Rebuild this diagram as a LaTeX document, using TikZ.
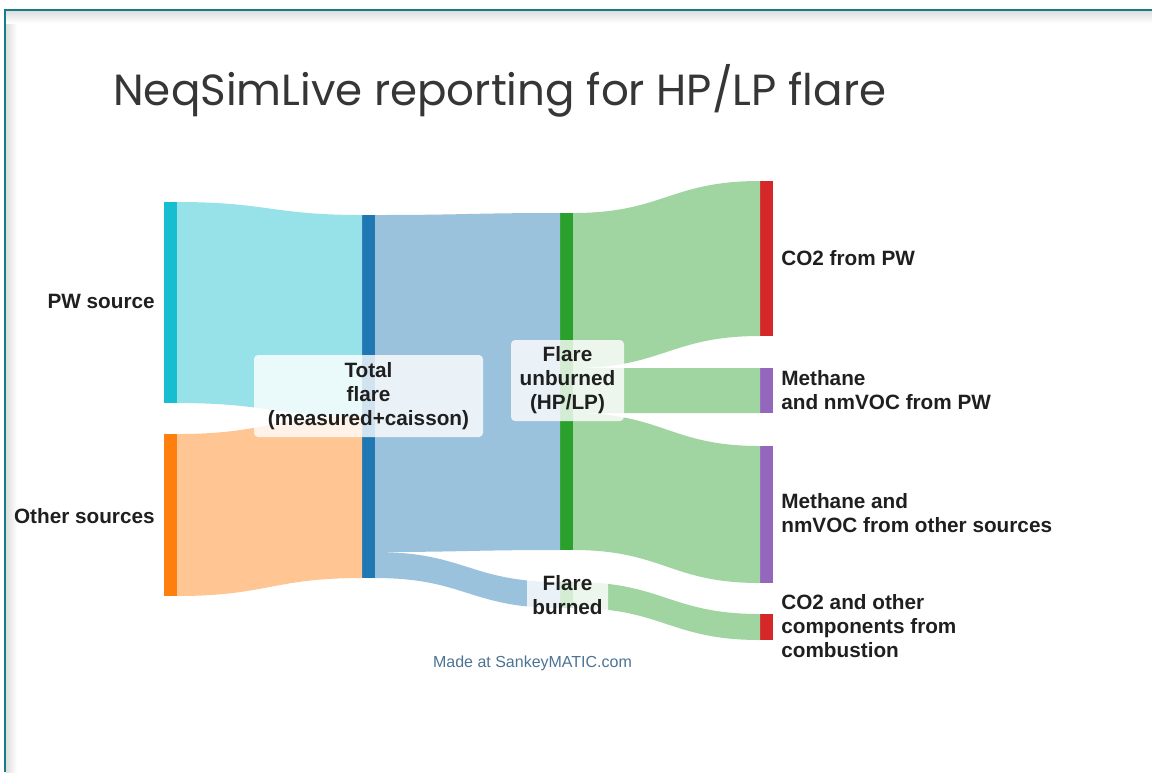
\documentclass[tikz,border=0pt]{standalone}
\usepackage{fontspec}
\setmainfont{Liberation Sans}
\newfontfamily\titlefont{Poppins}
\usetikzlibrary{calc}

\definecolor{pwcol}{HTML}{17BECF}
\definecolor{othcol}{HTML}{FF7F0E}
\definecolor{totcol}{HTML}{1F77B4}
\definecolor{flrcol}{HTML}{2CA02C}
\definecolor{co2col}{HTML}{D62728}
\definecolor{ch4col}{HTML}{9467BD}
\definecolor{framecol}{HTML}{167C87}
\definecolor{titlecol}{HTML}{363636}
\definecolor{madecol}{HTML}{4C7394}

\newcommand{\px}{0.02cm}
\newcommand{\band}[5]{\fill[#5] (#1) .. controls +(90,0) and +(-90,0) .. (#3)
  -- (#4) .. controls +(-90,0) and +(90,0) .. (#2) -- cycle;}

\tikzset{
  pwlink/.style={fill=pwcol!45!white},
  othlink/.style={fill=othcol!45!white},
  totlink/.style={fill=totcol!45!white},
  flrlink/.style={fill=flrcol!45!white},
  lbox/.style={fill=white, fill opacity=0.8, text opacity=1, rounded corners=0.08cm,
    align=center, inner sep=0pt}
}

\begin{document}
\begin{tikzpicture}[x=0.02cm, y=-0.02cm]
        \useasboundingbox (0,0) rectangle (1152,772);

        \shade[left color=black!13, right color=white] (6,11) rectangle (17,772);
        \shade[top color=black!13, bottom color=white] (6,11) rectangle (1152,23);
        \draw[framecol, line width=0.04cm] (5,772) -- (5,10) -- (1152,10);

        \node[font=\titlefont\fontsize{24.8}{28}\selectfont, text=titlecol, anchor=base west,
          inner sep=0pt] (title) at (113,105) {NeqSimLive reporting for HP/LP flare};

        \begin{scope}[every node/.style={rectangle, inner sep=0pt, outer sep=0pt,
            minimum width=13*\px, anchor=north west}]
          \node[fill=pwcol,  minimum height=201*\px] (pw)    at (164,202) {};
          \node[fill=othcol, minimum height=162*\px] (oth)   at (164,434) {};
          \node[fill=totcol, minimum height=363*\px] (tot)   at (362,215) {};
          \node[fill=flrcol, minimum height=337*\px] (unb)   at (560,213) {};
          \node[fill=flrcol, minimum height=26*\px]  (brn)   at (560,582) {};
          \node[fill=co2col, minimum height=155*\px] (co2pw) at (760,181) {};
          \node[fill=ch4col, minimum height=45*\px]  (mpw)   at (760,368) {};
          \node[fill=ch4col, minimum height=137*\px] (moth)  at (760,446) {};
          \node[fill=co2col, minimum height=26*\px]  (co2c)  at (760,614) {};
        \end{scope}

        \band{pw.north east}{pw.south east}{tot.north west}{$(tot.north west)+(0,201)$}{pwlink}
        \band{oth.north east}{oth.south east}{$(tot.north west)+(0,201)$}{tot.south west}{othlink}
        \band{tot.north east}{$(tot.north east)+(0,337)$}{unb.north west}{unb.south west}{totlink}
        \band{$(tot.north east)+(0,337)$}{tot.south east}{brn.north west}{brn.south west}{totlink}
        \band{unb.north east}{$(unb.north east)+(0,155)$}{co2pw.north west}{co2pw.south west}{flrlink}
        \band{$(unb.north east)+(0,155)$}{$(unb.north east)+(0,200)$}{mpw.north west}{mpw.south west}{flrlink}
        \band{$(unb.north east)+(0,200)$}{unb.south east}{moth.north west}{moth.south west}{flrlink}
        \band{brn.north east}{brn.south east}{co2c.north west}{co2c.south west}{flrlink}

        \begin{scope}[every node/.style={font=\bfseries\fontsize{11.8}{13.6}\selectfont,
            text=black!88, inner sep=0pt}]
          \node[anchor=east] (pwlab)  at (155,301) {PW source};
          \node[anchor=east] (othlab) at (155,516) {Other sources};

          \node[lbox, minimum width=229*\px, minimum height=82*\px] (totlab) at (368.5,396)
            {Total\\flare\\(measured+caisson)};
          \node[lbox, minimum width=113*\px, minimum height=81*\px] (unblab) at (567.5,380.5)
            {Flare\\unburned\\(HP/LP)};
          \node[lbox, minimum width=81*\px, minimum height=46*\px] (brnlab) at (567.5,595.5)
            {Flare\\burned};

          \node[anchor=west, align=left] (co2pwlab) at (781,258) {CO2 from PW};
          \node[anchor=west, align=left] (mpwlab)   at (781,390.5) {Methane\\and nmVOC from PW};
          \node[anchor=west, align=left] (mothlab)  at (781,513) {Methane and\\nmVOC from other sources};
          \node[anchor=west, align=left] (co2clab)  at (781,626) {CO2 and other\\components from\\combustion};
        \end{scope}

        \node[font=\fontsize{9.1}{11}\selectfont, text=madecol] (made) at (532.5,663)
          {Made at SankeyMATIC.com};

      \end{tikzpicture}
\end{document}
